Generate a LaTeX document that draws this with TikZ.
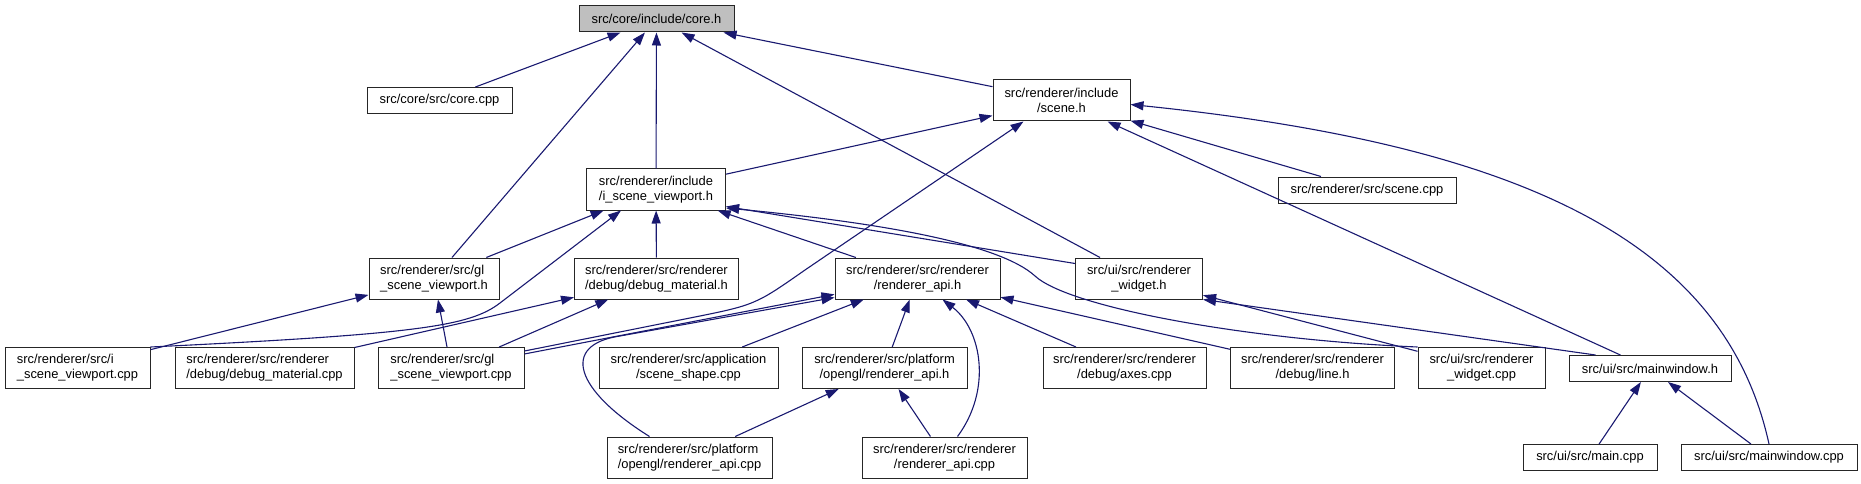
\documentclass[tikz,border=0pt]{standalone}
\usepackage{fontspec}
\setmainfont{Liberation Sans}
\usetikzlibrary{arrows.meta,calc}
\definecolor{edgeblue}{HTML}{191970}
\definecolor{rootgray}{HTML}{BFBFBF}
\begin{document}
\begin{tikzpicture}[x=1pt,y=-1pt,
  box/.style={draw=black!85, line width=1pt, fill=white, inner sep=0pt,
    font=\fontsize{12.9}{14.7}\selectfont, minimum height=41pt},
  one/.style={box, minimum height=26pt},
  lft/.style={align=left},
  ctr/.style={align=center},
  edge/.style={draw=edgeblue, line width=1.1pt, -{Triangle[length=13pt,width=9pt]}},
]
\useasboundingbox (0,0) rectangle (1861,484);
% row 0
\node[one, fill=rootgray, minimum width=155pt] (coreh) at (656.5,19) {src/core/include/core.h};
% row 1
\node[one, minimum width=145pt] (corecpp) at (439.5,100.5) {src/core/src/core.cpp};
\node[box, ctr, minimum width=137pt] (sceneh) at (1061.5,100.5) {src/renderer/include\\/scene.h};
% row 2
\node[box, lft, minimum width=139pt] (isvh) at (656,189.5) {src/renderer/include\\/i\_scene\_viewport.h};
\node[one, minimum width=178pt] (scenecpp) at (1367,190) {src/renderer/src/scene.cpp};
% row 3
\node[box, lft, minimum width=130pt] (glsvh) at (434,278.5) {src/renderer/src/gl\\\_scene\_viewport.h};
\node[box, lft, minimum width=164pt] (dmh) at (656.5,278.5) {src/renderer/src/renderer\\/debug/debug\_material.h};
\node[box, ctr, minimum width=165pt] (rapih) at (917.5,278.5) {src/renderer/src/renderer\\/renderer\_api.h};
\node[box, ctr, minimum width=127pt] (rwh) at (1139,278.5) {src/ui/src/renderer\\\_widget.h};
% row 4
\node[box, lft, minimum width=145pt] (isvcpp) at (77.5,368) {src/renderer/src/i\\\_scene\_viewport.cpp};
\node[box, lft, minimum width=179pt] (dmcpp) at (264.5,368) {src/renderer/src/renderer\\/debug/debug\_material.cpp};
\node[box, lft, minimum width=146pt] (glsvcpp) at (451,368) {src/renderer/src/gl\\\_scene\_viewport.cpp};
\node[box, ctr, minimum width=179pt] (shapecpp) at (688.5,368) {src/renderer/src/application\\/scene\_shape.cpp};
\node[box, ctr, minimum width=165pt] (oglrapih) at (884.5,368) {src/renderer/src/platform\\/opengl/renderer\_api.h};
\node[box, ctr, minimum width=163pt] (axescpp) at (1124.5,368) {src/renderer/src/renderer\\/debug/axes.cpp};
\node[box, ctr, minimum width=164pt] (lineh) at (1312.5,368) {src/renderer/src/renderer\\/debug/line.h};
\node[box, ctr, minimum width=127pt] (rwcpp) at (1481.5,368) {src/ui/src/renderer\\\_widget.cpp};
\node[one, minimum width=162pt] (mwh) at (1650,368.5) {src/ui/src/mainwindow.h};
% row 5
\node[box, lft, minimum width=165pt] (platcpp) at (689.5,457.5) {src/renderer/src/platform\\/opengl/renderer\_api.cpp};
\node[box, ctr, minimum width=165pt] (rapicpp) at (944.5,457.5) {src/renderer/src/renderer\\/renderer\_api.cpp};
\node[one, minimum width=134pt] (maincpp) at (1590,457.5) {src/ui/src/main.cpp};
\node[one, minimum width=176pt] (mwcpp) at (1769,457.5) {src/ui/src/mainwindow.cpp};

% edges into core.h
\draw[edge] (corecpp) -- (coreh);
\draw[edge] (glsvh) -- (coreh);
\draw[edge] (isvh) -- (coreh);
\draw[edge] (rwh) -- (coreh);
\draw[edge] (sceneh) -- (coreh);
% edges into scene.h
\draw[edge] (isvh) -- (sceneh);
\draw[edge] ($(glsvcpp.north east)+(0,4)$) -- (690,318) .. controls (755,305) .. (805,270) -- ($(sceneh.south west)+(31,0)$);
\draw[edge] (scenecpp) -- (sceneh);
\draw[edge] (mwh) -- (sceneh);
\draw[edge] (mwcpp.north) .. controls (1726,248) and (1535,146) .. ($(sceneh.east)+(0,4)$);
% edges into i_scene_viewport.h
\draw[edge] (glsvh) -- (isvh);
\draw[edge] (isvcpp.north east) .. controls (420,334) and (470,326) .. (500,303) -- ($(isvh.south west)+(35,0)$);
\draw[edge] (dmh) -- (isvh);
\draw[edge] (rapih) -- (isvh);
\draw[edge] ($(rwh.west)+(0,-15)$) -- ($(isvh.east)+(0,17)$);
\draw[edge] (rwcpp.north west) .. controls (1250,340) and (1070,308) .. (1035,276) .. controls (1000,244) and (883,223) .. ($(isvh.east)+(0,18.5)$);
% edges into gl_scene_viewport.h
\draw[edge] (isvcpp) -- (glsvh);
\draw[edge] (glsvcpp) -- (glsvh);
% edges into debug_material.h
\draw[edge] (dmcpp) -- (dmh);
\draw[edge] (glsvcpp) -- (dmh);
% edges into renderer_api.h
\draw[edge] (glsvcpp) -- (rapih);
\draw[edge] ($(platcpp.north west)+(43,0)$) .. controls (575,390) and (560,345) .. (620,336) -- ($(rapih.south west)+(0,-2)$);
\draw[edge] (shapecpp) -- (rapih);
\draw[edge] (oglrapih) -- (rapih);
\draw[edge] ($(rapicpp.north west)+(96,0)$) .. controls (992,390) and (982,330) .. ($(rapih.south west)+(108,0)$);
\draw[edge] (axescpp) -- (rapih);
\draw[edge] (lineh) -- (rapih);
% edges into renderer_widget.h
\draw[edge] (rwcpp) -- (rwh);
\draw[edge] ($(mwh.north west)+(27,0)$) -- (rwh.south east);
% edges into platform/opengl/renderer_api.h
\draw[edge] (platcpp) -- (oglrapih);
\draw[edge] (rapicpp) -- (oglrapih);
% edges into mainwindow.h
\draw[edge] (maincpp) -- (mwh);
\draw[edge] (mwcpp) -- (mwh);
\end{tikzpicture}
\end{document}
